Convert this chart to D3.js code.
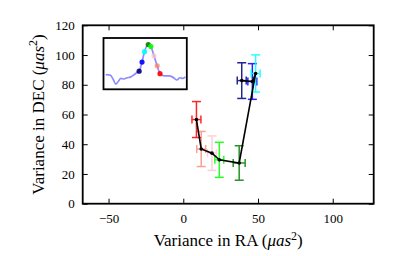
<!DOCTYPE html>
<html>
<head>
<meta charset="utf-8">
<script src="https://cdn.jsdelivr.net/npm/d3@7"></script>
<style>
  html, body { margin: 0; padding: 0; background: #fff; }
  svg { display: block; }
  text { font-family: "Liberation Serif", "Times New Roman", serif; fill: #000; }
</style>
</head>
<body>
<svg id="chart" width="415" height="256"></svg>
<script>
// ---- data ----
const pointColors = ["#000080", "#0000ff", "#00ffff", "#008000", "#00ff00", "#ffc0cb", "#fa8072", "#ff0000"];
const raValues   = [39.1, 46.2, 48.4, 37.4, 24.1, 19.2, 12.0, 8.8];
const decValues  = [82.8, 82.2, 87.6, 27.4, 29.5, 34.0, 36.8, 56.6];
const raErrors   = [3.0, 3.0, 3.0, 4.0, 3.0, 3.0, 3.0, 3.0];
const decErrors  = [12.0, 12.0, 12.5, 11.6, 11.8, 11.6, 11.8, 12.1];
const xTicks = [-50, 0, 50, 100];
const yTicks = [0, 20, 40, 60, 80, 100, 120];
const xDomain = [-67.3, 127.4];
const yDomain = [0, 120];
// inset light curve (normalised phase 0-100, flux 0-100)
const insetX = [0.8, 2.8, 6.7, 10.6, 13.4, 16.5, 19.7, 23.6, 27.6, 31.5, 35.4, 39.4, 42.5, 46.1, 49.2, 53.9, 57.1, 61.0, 65.0, 68.5, 73.6, 79.5, 84.3, 89.4, 93.3, 97.2, 100];
const insetY = [26.5, 27.3, 26.0, 16.2, 7.8, 13.0, 19.5, 18.2, 20.8, 22.1, 26.0, 31.2, 34.4, 53.2, 74.7, 89.6, 85.7, 66.2, 45.5, 29.2, 24.7, 24.7, 22.1, 16.2, 20.8, 19.5, 22.7];
const insetDotX = [42.5, 46.1, 49.2, 53.9, 57.1, 61.0, 65.0, 68.5];
const insetDotY = [34.4, 53.2, 74.7, 89.6, 85.7, 66.2, 45.5, 29.2];

// ---- layout ----
const svg = d3.select("#chart");
const L = 82.7, R = 373.7, T = 25.3, B = 203.7;
const x = d3.scaleLinear().domain(xDomain).range([L, R]);
const y = d3.scaleLinear().domain(yDomain).range([B, T]);

// ---- error bars ----
const capY = 4.5, capX = 4;
const eb = svg.append("g");
raValues.forEach((ra, i) => {
  const g = eb.append("g").attr("stroke", pointColors[i]).attr("stroke-width", 1.5)
    .attr("opacity", (i === 5 || i === 6) ? 0.75 : 0.85);
  const cx = x(ra), cy = y(decValues[i]);
  const y0 = y(decValues[i] - decErrors[i]), y1 = y(decValues[i] + decErrors[i]);
  const x0 = x(ra - raErrors[i]), x1 = x(ra + raErrors[i]);
  g.append("line").attr("x1", cx).attr("x2", cx).attr("y1", y0).attr("y2", y1);
  g.append("line").attr("x1", cx - capY).attr("x2", cx + capY).attr("y1", y0).attr("y2", y0);
  g.append("line").attr("x1", cx - capY).attr("x2", cx + capY).attr("y1", y1).attr("y2", y1);
  g.append("line").attr("x1", x0).attr("x2", x1).attr("y1", cy).attr("y2", cy);
  g.append("line").attr("x1", x0).attr("x2", x0).attr("y1", cy - capX).attr("y2", cy + capX);
  g.append("line").attr("x1", x1).attr("x2", x1).attr("y1", cy - capX).attr("y2", cy + capX);
});

// ---- black connecting line ----
const pts = raValues.map((ra, i) => [ra, decValues[i]]);
svg.append("path")
  .attr("d", d3.line().x(d => x(d[0])).y(d => y(d[1]))(pts))
  .attr("fill", "none").attr("stroke", "#000").attr("stroke-width", 1.6);
svg.append("g").selectAll("circle").data(pts).join("circle")
  .attr("cx", d => x(d[0])).attr("cy", d => y(d[1])).attr("r", 1.8).attr("fill", "#000");

// ---- axes frame and ticks ----
const axB = d3.axisBottom(x).tickValues(xTicks).tickSizeInner(-5).tickSizeOuter(0).tickPadding(10)
  .tickFormat(d => d < 0 ? "\u2212" + Math.abs(d) : d);
const axT = d3.axisTop(x).tickValues(xTicks).tickSizeInner(-5).tickSizeOuter(0).tickFormat("");
const axL = d3.axisLeft(y).tickValues(yTicks).tickSizeInner(-5).tickSizeOuter(0).tickPadding(8);
const axR = d3.axisRight(y).tickValues(yTicks).tickSizeInner(-5).tickSizeOuter(0).tickFormat("");
function style(g) {
  g.select(".domain").remove();
  g.selectAll(".tick line").attr("stroke", "#000").attr("stroke-width", 1);
  g.selectAll(".tick text").style("font-family", '"Liberation Serif", serif').attr("font-size", 13).attr("fill", "#000");
}
svg.append("g").attr("transform", `translate(0,${B})`).call(axB).call(style);
svg.append("g").attr("transform", `translate(0,${T})`).call(axT).call(style);
svg.append("g").attr("transform", `translate(${L},0)`).call(axL).call(style);
svg.append("g").attr("transform", `translate(${R},0)`).call(axR).call(style);
svg.append("rect").attr("x", L).attr("y", T).attr("width", R - L).attr("height", B - T)
  .attr("fill", "none").attr("stroke", "#000").attr("stroke-width", 1.8);

// ---- inset ----
const iL = 103.5, iR = 186.8, iT = 38, iB = 89.3;
const ix = d3.scaleLinear().domain([0, 100]).range([iL + 1.5, iR - 1.5]);
const iy = d3.scaleLinear().domain([0, 100]).range([iB - 1.5, iT + 1.5]);
const inset = svg.append("g");
inset.append("rect").attr("x", iL).attr("y", iT).attr("width", iR - iL).attr("height", iB - iT)
  .attr("fill", "#fff").attr("stroke", "none");
inset.append("path")
  .attr("d", d3.line().curve(d3.curveMonotoneX).x((d, i) => ix(insetX[i])).y(d => iy(d))(insetY))
  .attr("fill", "none").attr("stroke", "#0000ff").attr("stroke-opacity", 0.45).attr("stroke-width", 1.7);
inset.append("g").selectAll("circle").data(insetDotX).join("circle")
  .attr("cx", d => ix(d)).attr("cy", (d, i) => iy(insetDotY[i])).attr("r", 2.6)
  .attr("fill", (d, i) => pointColors[i]).attr("opacity", (d, i) => (i === 5 || i === 6) ? 0.75 : 0.9);
inset.append("rect").attr("x", iL).attr("y", iT).attr("width", iR - iL).attr("height", iB - iT)
  .attr("fill", "none").attr("stroke", "#000").attr("stroke-width", 1.8);

// ---- axis titles ----
const xt = svg.append("text").attr("x", (L + R) / 2).attr("y", 246).attr("text-anchor", "middle").attr("font-size", 17);
xt.append("tspan").text("Variance in RA (");
xt.append("tspan").attr("font-style", "italic").text("\u03bcas");
xt.append("tspan").attr("font-size", 12).attr("dy", -6.5).text("2");
xt.append("tspan").attr("dy", 6.5).text(")");

const yt = svg.append("text").attr("transform", `translate(43.5,${(T + B) / 2}) rotate(-90)`).attr("text-anchor", "middle").attr("font-size", 17);
yt.append("tspan").text("Variance in DEC (");
yt.append("tspan").attr("font-style", "italic").text("\u03bcas");
yt.append("tspan").attr("font-size", 12).attr("dy", -6.5).text("2");
yt.append("tspan").attr("dy", 6.5).text(")");
</script>
</body>
</html>
